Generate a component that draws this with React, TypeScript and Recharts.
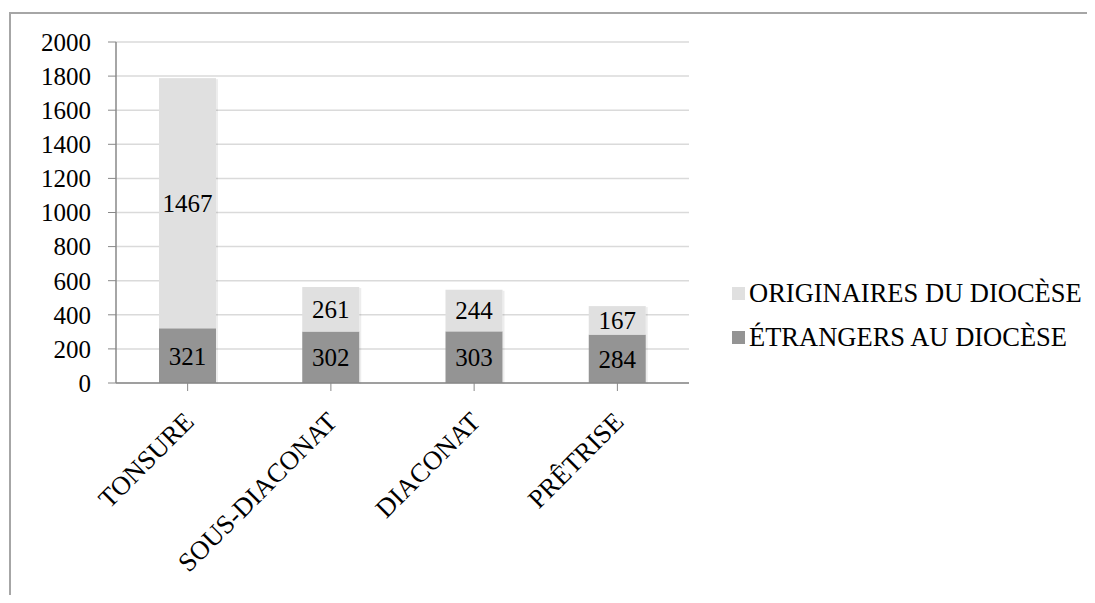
import { BarChart, Bar, XAxis, YAxis, CartesianGrid, LabelList } from "recharts";

const categories = ["TONSURE", "SOUS-DIACONAT", "DIACONAT", "PRÊTRISE"];
const etrangers = [321, 302, 303, 284];
const originaires = [1467, 261, 244, 167];
const yTicks = [0, 200, 400, 600, 800, 1000, 1200, 1400, 1600, 1800, 2000];

const data = categories.map((name, i) => ({
  name,
  etrangers: etrangers[i],
  originaires: originaires[i],
}));

const FONT = "'Times New Roman', 'Liberation Serif', serif";
const LIGHT = "#e0e0e0";
const DARK = "#949494";

const legendItems = [
  { label: "ORIGINAIRES DU DIOCÈSE", color: LIGHT },
  { label: "ÉTRANGERS AU DIOCÈSE", color: DARK },
];

function XTick(props: any) {
  const { x, y, payload } = props;
  return (
    <text
      x={x}
      y={y}
      transform={`rotate(-45 ${x} ${y})`}
      textAnchor="end"
      style={{ fontFamily: FONT }}
      fontSize={26.5}
      fill="#000"
      dx={-16}
      dy={27}
    >
      {payload.value}
    </text>
  );
}

// bar segment with a faint soft shadow on the right, like the original
function ShadowBar(props: any) {
  const { x, y, width, height, fill } = props;
  if (!height || height <= 0) return null;
  return (
    <g>
      <rect x={x + width} y={y + 1} width={2} height={height} fill="rgba(0,0,0,0.07)" />
      <rect x={x} y={y} width={width} height={height} fill={fill} />
    </g>
  );
}

export default function App() {
  return (
    <div style={{ margin: -8, width: 1095, height: 603, position: "relative", overflow: "hidden", background: "#fff", fontFamily: FONT }}>
      <div
        style={{
          position: "absolute",
          left: 9,
          top: 12,
          width: 1200,
          height: 700,
          border: "2px solid #a6a6a6",
        }}
      />
      <div style={{ position: "absolute", left: 0, top: 0 }}>
        <BarChart
          width={1095}
          height={603}
          data={data}
          margin={{ top: 42, right: 406, bottom: 70, left: 36 }}
          barSize={57}
          style={{ fontFamily: FONT }}
        >
          <CartesianGrid vertical={false} stroke="#dadada" strokeWidth={1.5} />
          <XAxis
            dataKey="name"
            height={150}
            tick={<XTick />}
            tickLine={{ stroke: "#888" }}
            axisLine={{ stroke: "#888", strokeWidth: 1.5 }}
            tickSize={8}
            interval={0}
          />
          <YAxis
            width={80}
            domain={[0, 2000]}
            ticks={yTicks}
            interval={0}
            tickSize={8}
            tickMargin={17}
            tickLine={{ stroke: "#888" }}
            axisLine={{ stroke: "#888", strokeWidth: 1.5 }}
            tick={{ fontSize: 25, fill: "#000", style: { fontFamily: FONT } }}
          />
          <Bar dataKey="etrangers" stackId="a" fill={DARK} shape={<ShadowBar />} isAnimationActive={false}>
            <LabelList dataKey="etrangers" position="center" fontSize={25} fill="#000" style={{ fontFamily: FONT }} />
          </Bar>
          <Bar dataKey="originaires" stackId="a" fill={LIGHT} shape={<ShadowBar />} isAnimationActive={false}>
            <LabelList dataKey="originaires" position="center" fontSize={25} fill="#000" style={{ fontFamily: FONT }} />
          </Bar>
        </BarChart>
      </div>
      <div style={{ position: "absolute", left: 732, top: 271, fontSize: 26.5, color: "#000" }}>
        {legendItems.map((it) => (
          <div key={it.label} style={{ display: "flex", alignItems: "center", height: 44, whiteSpace: "nowrap" }}>
            <div style={{ width: 13, height: 13, background: it.color, marginRight: 4 }} />
            <span>{it.label}</span>
          </div>
        ))}
      </div>
    </div>
  );
}
